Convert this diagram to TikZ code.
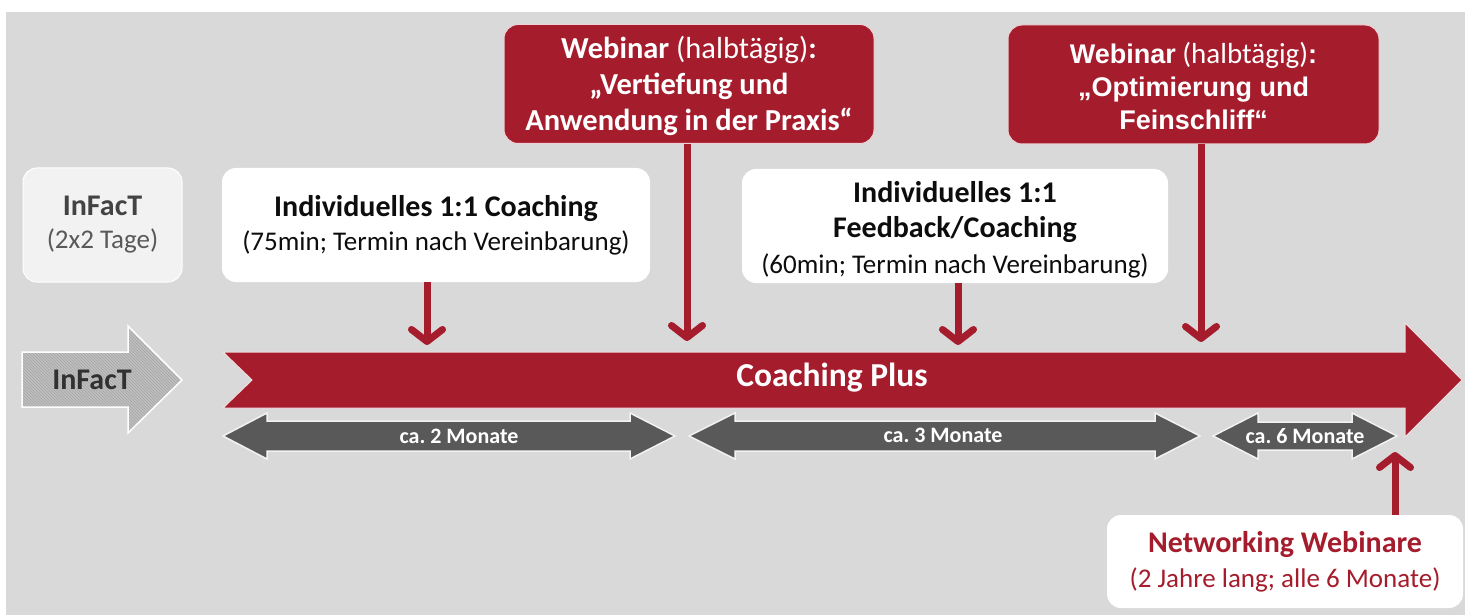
\documentclass[tikz,border=0pt]{standalone}
\usepackage{fontspec}
\setmainfont{Carlito}
\newfontfamily\arialf{Liberation Sans}
\usetikzlibrary{arrows.meta,patterns}
\definecolor{cred}{HTML}{A51C2C}
\definecolor{bggray}{HTML}{D9D9D9}
\definecolor{dgray}{HTML}{595959}
\definecolor{lbox}{HTML}{F2F2F2}
\definecolor{txt}{HTML}{0D0D0D}
\definecolor{hatchA}{HTML}{BFBFBF}
\definecolor{hatchB}{HTML}{A6A6A6}
\newcommand{\ab}[1]{{\arialf\fontsize{27}{33}\selectfont\bfseries #1}}
\tikzset{
  redbox/.style={rectangle, rounded corners=14pt, fill=cred, draw=white!80!cred, line width=1pt, text=white, align=center, inner sep=0pt},
  whitebox/.style={rectangle, rounded corners=14pt, fill=white, draw=none, text=txt, align=center, inner sep=0pt},
  conn/.style={draw=cred, line width=7pt, -{Straight Barb[length=12pt,width=31pt,round]}},
  dbl/.style={fill=dgray, draw=white!92!dgray, line width=1.5pt},
  monthlbl/.style={text=white, font=\fontsize{22}{24}\selectfont\bfseries, inner sep=0pt}
}
\begin{document}
\begin{tikzpicture}[x=1pt,y=-1pt]
\useasboundingbox (0,0) rectangle (1465,615);
\fill[white] (0,0) rectangle (1465,615);
\fill[bggray] (6,12) rectangle (1465,615);

% InFacT box
\node[whitebox, fill=lbox, draw=white, line width=1pt, minimum width=159pt, minimum height=114pt, text=dgray!75!black,
      font=\fontsize{27}{33}\selectfont] (infbox) at (102.5,225) {{\fontsize{30}{33}\selectfont\bfseries InFacT}\\{\color{dgray}(2x2 Tage)}};

% Individuelles boxes
\node[whitebox, minimum width=428pt, minimum height=114pt, font=\fontsize{27}{34}\selectfont] (ind1) at (436,225)
  {{\fontsize{30}{34}\selectfont\bfseries Individuelles 1:1 Coaching}\\(75min; Termin nach Vereinbarung)};
\node[whitebox, minimum width=426pt, minimum height=114pt, font=\fontsize{27}{35.5}\selectfont] (ind2) at (955,226)
  {\rule{0pt}{28pt}{\fontsize{30}{35.5}\selectfont\bfseries Individuelles 1:1}\\{\fontsize{30}{35.5}\selectfont\bfseries Feedback/Coaching}\\(60min; Termin nach Vereinbarung)};

% Webinar boxes
\node[redbox, minimum width=370pt, minimum height=119pt, font=\fontsize{30.5}{36}\selectfont] (web1) at (689,84)
  {\rule{0pt}{27pt}\textbf{Webinar} (halbtägig)\textbf{:}\\\textbf{„Vertiefung und}\\\textbf{Anwendung in der Praxis“}};
\node[redbox, minimum width=371pt, minimum height=119pt, font=\fontsize{29}{33}\selectfont] (web2) at (1193.5,84.5)
  {\rule{0pt}{25pt}\ab{Webinar} (halbtägig)\ab{:}\\\ab{„Optimierung und}\\\ab{Feinschliff“}};

% Networking box
\node[whitebox, minimum width=356pt, minimum height=93pt, text=cred, font=\fontsize{27}{35}\selectfont] (net) at (1285,561.5)
  {{\fontsize{30}{35}\selectfont\bfseries Networking Webinare}\\(2 Jahre lang; alle 6 Monate)};

% InFacT hatched arrow
\fill[hatchA]
  (22,352) -- (128,352) -- (128,326) -- (182,380) -- (128,433) -- (128,407) -- (22,407) -- cycle;
\fill[pattern=north west lines, pattern color=hatchB]
  (22,352) -- (128,352) -- (128,326) -- (182,380) -- (128,433) -- (128,407) -- (22,407) -- cycle;
\draw[white, line width=1.5pt]
  (22,352) -- (128,352) -- (128,326) -- (182,380) -- (128,433) -- (128,407) -- (22,407) -- cycle;
\node[text=txt!85!white, font=\fontsize{30}{32}\selectfont\bfseries, inner sep=0pt] (infarrow) at (92,380) {InFacT};

% Coaching Plus band
\filldraw[fill=cred, draw=white!85!cred, line width=1pt]
  (223,352) -- (1405,352) -- (1405,323) -- (1462,380) -- (1405,437) -- (1405,408) -- (223,408) -- (252,380) -- cycle;
\node[text=white, font=\fontsize{33.5}{36}\selectfont\bfseries, inner sep=0pt] (cplus) at (832,378) {Coaching Plus};

% duration arrows
\filldraw[dbl] (223,436) -- (267,413) -- (267,421) -- (630,421) -- (630,413) -- (675,436) -- (630,459) -- (630,451) -- (267,451) -- (267,459) -- cycle;
\node[monthlbl] (m2) at (459,436) {ca.\ 2 Monate};
\filldraw[dbl] (689,436) -- (735,413) -- (735,421) -- (1155,421) -- (1155,413) -- (1200,436) -- (1155,459) -- (1155,451) -- (735,451) -- (735,459) -- cycle;
\node[monthlbl] (m3) at (943,435) {ca.\ 3 Monate};
\filldraw[dbl] (1213,436) -- (1258,413) -- (1258,422) -- (1352,422) -- (1352,413) -- (1397,436) -- (1352,459) -- (1352,450) -- (1258,450) -- (1258,459) -- cycle;
\node[monthlbl] (m6) at (1305,436) {ca.\ 6 Monate};

% connectors
\coordinate (t1) at (427,345);
\coordinate (t2) at (687,341);
\coordinate (t3) at (958,345);
\coordinate (t4) at (1201,342);
\coordinate (t5) at (1395,452);
\draw[conn] (ind1.south -| t1) -- (t1);
\draw[conn] (web1.south -| t2) -- (t2);
\draw[conn] (ind2.south -| t3) -- (t3);
\draw[conn] (web2.south -| t4) -- (t4);
\draw[conn] (net.north -| t5) -- (t5);
\end{tikzpicture}
\end{document}
